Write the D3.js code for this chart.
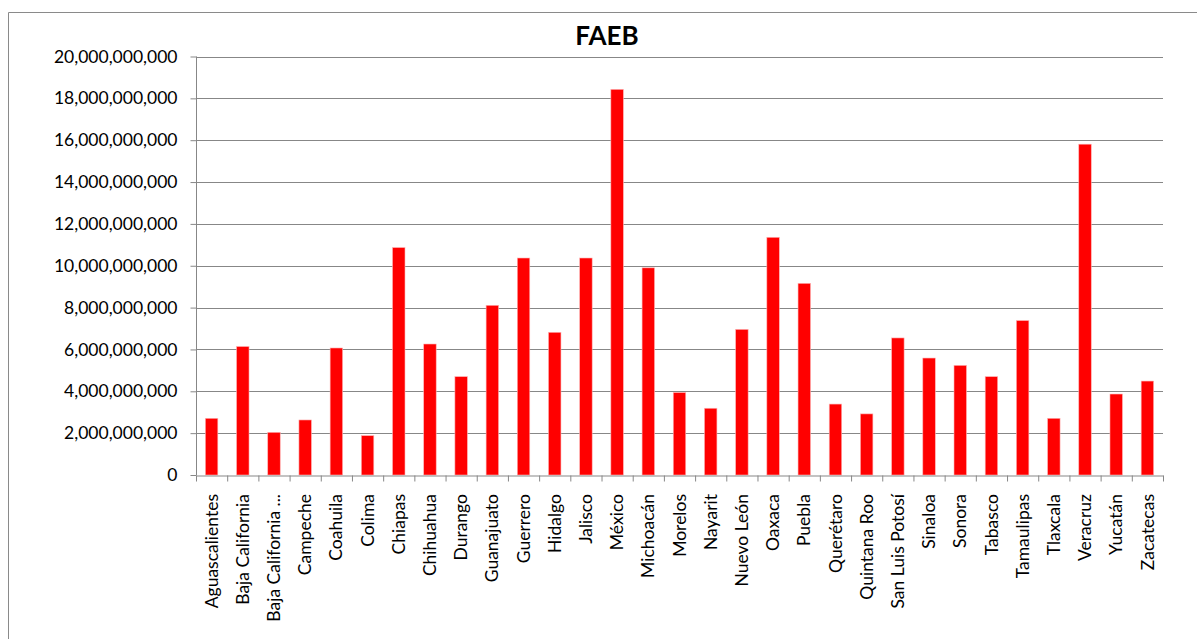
<!DOCTYPE html>
<html>
<head>
<meta charset="utf-8">
<script src="https://cdn.jsdelivr.net/npm/d3@7"></script>
<style>
  html, body { margin: 0; padding: 0; background: #fff; }
  svg { display: block; }
  text { font-family: Lato, "Open Sans", "Noto Sans", sans-serif; fill: #000; }
</style>
</head>
<body>
<svg id="chart" width="1197" height="639"></svg>
<script>
// Mexican states, FAEB allocation (pesos)
const categories = [
  "Aguascalientes", "Baja California", "Baja California ...", "Campeche", "Coahuila",
  "Colima", "Chiapas", "Chihuahua", "Durango", "Guanajuato", "Guerrero", "Hidalgo",
  "Jalisco", "México", "Michoacán", "Morelos", "Nayarit", "Nuevo León", "Oaxaca",
  "Puebla", "Querétaro", "Quintana Roo", "San Luis Potosí", "Sinaloa", "Sonora",
  "Tabasco", "Tamaulipas", "Tlaxcala", "Veracruz", "Yucatán", "Zacatecas"
];
const values = [
  2.71e9, 6.14e9, 2.04e9, 2.63e9, 6.07e9,
  1.88e9, 10.87e9, 6.26e9, 4.70e9, 8.11e9, 10.37e9, 6.82e9,
  10.37e9, 18.43e9, 9.90e9, 3.94e9, 3.19e9, 6.96e9, 11.36e9,
  9.16e9, 3.39e9, 2.92e9, 6.55e9, 5.59e9, 5.24e9,
  4.70e9, 7.38e9, 2.71e9, 15.81e9, 3.87e9, 4.49e9
];
const yTicks = [0, 2e9, 4e9, 6e9, 8e9, 10e9, 12e9, 14e9, 16e9, 18e9, 20e9];
const title = "FAEB";

const svg = d3.select("#chart");
const plot = { left: 196, right: 1163, top: 56.5, bottom: 475 };

// chart frame (left and top edges)
svg.append("path")
  .attr("d", "M8.5,639V12.5H1197")
  .attr("fill", "none")
  .attr("stroke", "#8a8a8a")
  .attr("stroke-width", 1);

const x = d3.scaleBand()
  .domain(categories)
  .range([plot.left, plot.right])
  .paddingInner(0.6)
  .paddingOuter(0.3);

const y = d3.scaleLinear()
  .domain([0, 20e9])
  .range([plot.bottom, plot.top]);

// horizontal gridlines
svg.append("g")
  .selectAll("line")
  .data(yTicks.filter(d => d > 0))
  .join("line")
  .attr("x1", plot.left)
  .attr("x2", plot.right)
  .attr("y1", d => Math.round(y(d)) + 0.5)
  .attr("y2", d => Math.round(y(d)) + 0.5)
  .attr("stroke", "#878787")
  .attr("stroke-width", 1);

// bars
svg.append("g")
  .selectAll("rect")
  .data(values)
  .join("rect")
  .attr("x", (d, i) => x(categories[i]))
  .attr("width", x.bandwidth())
  .attr("y", d => y(d))
  .attr("height", d => y(0) - y(d))
  .attr("fill", "#ff0000")
  .attr("stroke", "#ffb3b3")
  .attr("stroke-width", 0.6);

// y axis
const yAxis = svg.append("g")
  .attr("transform", `translate(${plot.left + 0.5},0)`)
  .call(d3.axisLeft(y)
    .tickValues(yTicks)
    .tickFormat(d3.format(","))
    .tickSize(6)
    .tickPadding(13));
yAxis.select(".domain").attr("stroke", "#878787").attr("d", `M0,${plot.top}V${plot.bottom}`);
yAxis.selectAll(".tick line").attr("stroke", "#878787");
yAxis.selectAll(".tick text")
  .style("font-size", "17.5px")
  .attr("fill", "#000");

// x axis: boundary ticks between categories
const edges = d3.scaleLinear().domain([0, categories.length]).range([plot.left, plot.right]);
const xAxis = svg.append("g")
  .attr("transform", `translate(0,${Math.round(plot.bottom) + 0.5})`)
  .call(d3.axisBottom(edges)
    .tickValues(d3.range(categories.length + 1))
    .tickFormat("")
    .tickSize(6)
    .tickSizeOuter(0));
xAxis.select(".domain").attr("stroke", "#878787");
xAxis.selectAll(".tick line").attr("stroke", "#878787");

// category labels, rotated
svg.append("g")
  .selectAll("text")
  .data(categories)
  .join("text")
  .attr("transform", d => `translate(${x(d) + x.bandwidth() / 2},494) rotate(-90)`)
  .attr("text-anchor", "end")
  .attr("dy", "0.35em")
  .style("font-size", "17.5px")
  .text(d => d);

// title
svg.append("text")
  .attr("x", 607)
  .attr("y", 45)
  .attr("text-anchor", "middle")
  .style("font-size", "26px")
  .style("font-weight", "bold")
  .text(title);
</script>
</body>
</html>
